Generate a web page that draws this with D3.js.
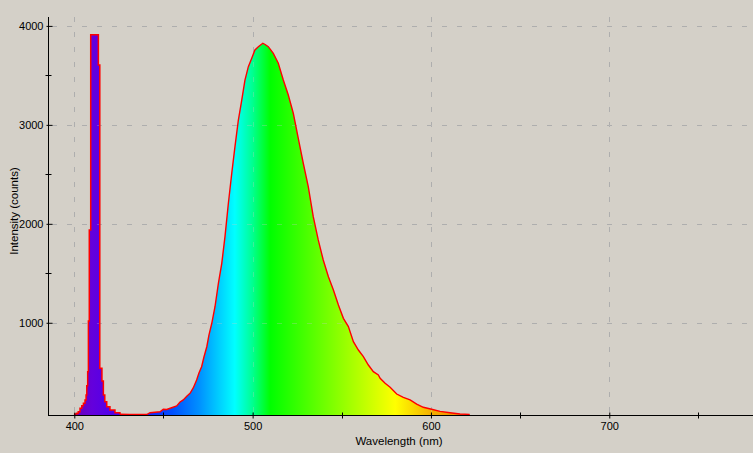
<!DOCTYPE html>
<html>
<head>
<meta charset="utf-8">
<script src="https://cdn.jsdelivr.net/npm/d3@7"></script>
<style>
  body { margin: 0; background: #d4d0c8; }
  svg { display: block; }
  text { font-family: "Liberation Sans", Arial, sans-serif; font-size: 11px; fill: #000; }
</style>
</head>
<body>
<script>
// axis ticks
var xMajorTicks = [400, 500, 600, 700];
var xMinorTicks = [450, 550, 650, 750];
var yMajorTicks = [1000, 2000, 3000, 4000];
var yMinorTicks = [1500, 2500, 3500];

// laser line around 405 nm (nm, counts) - drawn as steps
var laserWl     = [399.8, 401.4, 402.2, 403.2, 404.2, 405.1, 406.0, 406.6, 407.0, 407.5, 407.9, 408.4, 409.2, 413.5, 414.3, 415.5, 416.3, 417.1, 418.2, 420.0, 422.8, 425.6];
var laserCounts = [78, 85, 101, 136, 162, 186, 220, 270, 364, 506, 1018, 1938, 3911, 3605, 540, 412, 270, 202, 152, 119, 91, 75];

// broad emission band (nm, counts)
var bandWl = [425.6, 431.2, 440.6, 442.5, 448.1, 449.9, 451.8, 454.2, 457.4, 459.3, 461.1, 463.2, 464.9, 466.7, 468.6, 469.9,
  471.4, 472.7, 474.3, 475.5, 477.1, 478.9, 480.8, 482.7, 484.5, 486.4, 488.3, 490.1, 492.0, 493.9, 495.7, 497.6, 499.5,
  501.3, 503.2, 505.7, 507.0, 508.8, 511.6, 514.4, 517.2, 520.0, 522.8, 525.6, 528.4, 531.2, 534.0, 536.8, 539.6, 542.5,
  545.3, 548.1, 550.9, 553.7, 556.5, 559.3, 562.1, 564.9, 567.7, 570.5, 571.5, 574.3, 577.1, 580.8, 584.5, 588.3, 592.0,
  595.7, 600.4, 605.1, 610.7, 616.3, 621.4, 621.5];
var bandCounts = [75, 73, 73, 91, 101, 126, 124, 139, 159, 199, 220, 260, 287, 341, 422, 492,
  556, 654, 758, 876, 995, 1162, 1399, 1601, 1870, 2208, 2511, 2780, 3049, 3251, 3453, 3588, 3673,
  3757, 3790, 3825, 3812, 3790, 3723, 3622, 3453, 3302, 3117, 2864, 2612, 2375, 2072, 1837, 1634, 1466,
  1332, 1180, 1045, 961, 809, 725, 658, 573, 506, 472, 439, 388, 348, 280, 247, 220, 179,
  146, 126, 105, 91, 78, 74, 68];

// colour of the fill along the spectrum
var specWl     = [380, 400, 410, 425, 440, 455, 470, 490, 500, 510, 545, 580, 600, 620, 645, 780];
var specColors = ["#5a0090", "#6a00b4", "#6400dc", "#4800f0", "#1a20ff", "#0050ff", "#0090ff", "#00ffff",
                  "#00ff90", "#00ff00", "#80ff00", "#ffff00", "#f4b000", "#f08000", "#ff0000", "#800000"];

var W = 753, H = 453;
var pLeft = 48, pRight = 753, pTop = 17, pBottom = 415;

var svg = d3.select("body").append("svg")
    .attr("width", W)
    .attr("height", H);

var x = d3.scaleLinear().domain([385.25, 780.6]).range([pLeft, pRight]);
var y = d3.scaleLinear().domain([68, 4090]).range([pBottom, pTop]);

var laser = laserWl.map(function(d, i) { return {wl: d, c: laserCounts[i]}; });
var band = bandWl.map(function(d, i) { return {wl: d, c: bandCounts[i]}; });

var defs = svg.append("defs");
defs.append("clipPath").attr("id", "plot")
  .append("rect")
    .attr("x", pLeft).attr("y", pTop)
    .attr("width", pRight - pLeft).attr("height", pBottom - pTop);

var grad = defs.append("linearGradient")
    .attr("id", "spec")
    .attr("gradientUnits", "userSpaceOnUse")
    .attr("x1", x(380)).attr("x2", x(780))
    .attr("y1", 0).attr("y2", 0);
grad.selectAll("stop")
    .data(specWl)
    .enter().append("stop")
    .attr("offset", function(d) { return (d - 380) / 400; })
    .attr("stop-color", function(d, i) { return specColors[i]; });

// grid
function drawGrid(g) {
  g.selectAll(".vg").data(xMajorTicks).enter().append("line")
      .attr("x1", function(d) { return Math.round(x(d)) + 0.5; })
      .attr("x2", function(d) { return Math.round(x(d)) + 0.5; })
      .attr("y1", pTop).attr("y2", pBottom);
  g.selectAll(".hg").data(yMajorTicks).enter().append("line")
      .attr("y1", function(d) { return Math.round(y(d)) + 0.5; })
      .attr("y2", function(d) { return Math.round(y(d)) + 0.5; })
      .attr("x1", pLeft + 4).attr("x2", pRight);
}
svg.append("g")
    .attr("stroke", "#a4a4a4")
    .attr("stroke-dasharray", "5,10")
    .call(drawGrid);

var plot = svg.append("g").attr("clip-path", "url(#plot)");

var laserArea = d3.area()
    .curve(d3.curveStepAfter)
    .x(function(d) { return x(d.wl); })
    .y0(pBottom)
    .y1(function(d) { return y(d.c); });
var laserLine = d3.line()
    .curve(d3.curveStepAfter)
    .x(function(d) { return x(d.wl); })
    .y(function(d) { return y(d.c); });

var bandArea = d3.area()
    .x(function(d) { return x(d.wl); })
    .y0(pBottom)
    .y1(function(d) { return y(d.c); });
var bandLine = d3.line()
    .x(function(d) { return x(d.wl); })
    .y(function(d) { return y(d.c); });

plot.append("path").datum(laser).attr("d", laserArea).attr("fill", "url(#spec)");
plot.append("path").datum(band).attr("d", bandArea).attr("fill", "url(#spec)");

// faint grid showing through the fill
plot.append("g")
    .attr("stroke", "#c8c8c8")
    .attr("stroke-opacity", 0.3)
    .attr("stroke-dasharray", "5,10")
    .call(drawGrid);

plot.append("path").datum(laser).attr("d", laserLine)
    .attr("fill", "none").attr("stroke", "#ff0000").attr("stroke-width", 1.5);
plot.append("path").datum(band).attr("d", bandLine)
    .attr("fill", "none").attr("stroke", "#ff0000").attr("stroke-width", 1.4);

// x axis
var xAxis = svg.append("g")
    .attr("transform", "translate(0," + (pBottom + 0.5) + ")")
    .call(d3.axisBottom(x).tickValues(xMajorTicks).tickFormat(d3.format("d")).tickSizeOuter(0));
xAxis.selectAll(".tick line").attr("y1", -3).attr("y2", 3);
xAxis.selectAll(".tick text").attr("y", 7);
xAxis.attr("font-size", null).attr("font-family", null);
xAxis.selectAll(".minor").data(xMinorTicks).enter().append("line")
    .attr("class", "minor")
    .attr("x1", function(d) { return Math.round(x(d)) + 0.5; })
    .attr("x2", function(d) { return Math.round(x(d)) + 0.5; })
    .attr("y1", -3).attr("y2", 3)
    .attr("stroke", "#000");
xAxis.select(".domain").attr("d", "M" + pLeft + ",0H" + pRight);

// y axis
var yAxis = svg.append("g")
    .attr("transform", "translate(" + (pLeft + 0.5) + ",0)")
    .call(d3.axisLeft(y).tickValues(yMajorTicks).tickFormat(d3.format("d")).tickSizeOuter(0));
yAxis.selectAll(".tick line").attr("x1", -2).attr("x2", 4);
yAxis.selectAll(".tick text").attr("x", -5);
yAxis.attr("font-size", null).attr("font-family", null);
yAxis.selectAll(".minor").data(yMinorTicks).enter().append("line")
    .attr("class", "minor")
    .attr("y1", function(d) { return Math.round(y(d)) + 0.5; })
    .attr("y2", function(d) { return Math.round(y(d)) + 0.5; })
    .attr("x1", -3).attr("x2", 3)
    .attr("stroke", "#000");
yAxis.select(".domain").attr("d", "M0," + pTop + "V" + pBottom);

// titles
svg.append("text")
    .attr("x", 399)
    .attr("y", 445)
    .attr("text-anchor", "middle")
    .style("font-size", "11.5px")
    .text("Wavelength (nm)");

svg.append("text")
    .attr("transform", "translate(18,211) rotate(-90)")
    .attr("text-anchor", "middle")
    .style("font-size", "11.5px")
    .text("Intensity (counts)");
</script>
</body>
</html>
